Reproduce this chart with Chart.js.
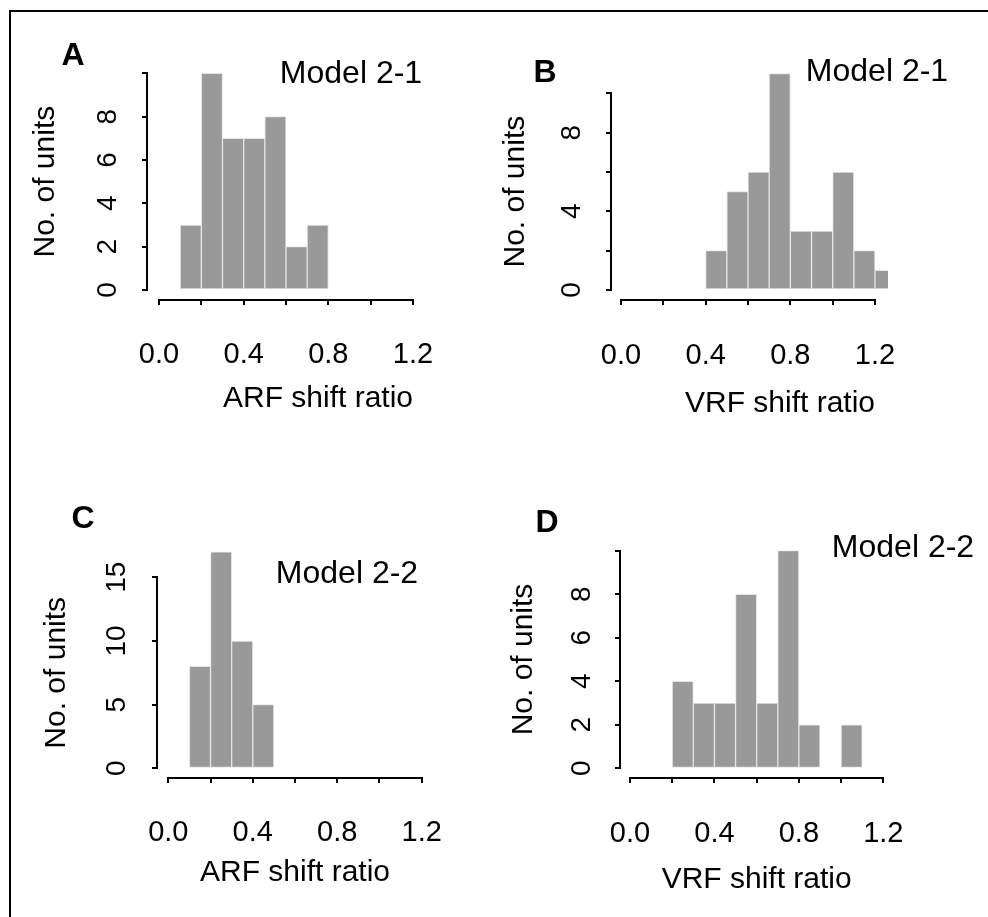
<!DOCTYPE html>
<html>
<head>
<meta charset="utf-8">
<title>ARF / VRF shift ratio histograms</title>
<script src="https://cdn.jsdelivr.net/npm/chart.js@4.4.1/dist/chart.umd.min.js"></script>
<style>
  html, body { margin: 0; padding: 0; background: #fff; }
  #figure { position: relative; width: 988px; height: 917px; overflow: hidden;
            font-family: 'Liberation Sans', Arial, Helvetica, sans-serif; }
  #frame { position: absolute; left: 9px; top: 10px; right: 0; bottom: 0;
           border-left: 2px solid #000; border-top: 2px solid #000; }
  .panel { position: absolute; }
  .tag { position: absolute; line-height: 1; white-space: nowrap; color: #000; transform: translateX(-50%); }
  .letter { font-size: 32px; font-weight: bold; }
  .model { font-size: 32px; }
</style>
</head>
<body>
<div id="figure">
  <div id="frame"></div>
  <canvas id="panelA" class="panel" width="494" height="458" style="left:0;top:0"></canvas>
  <canvas id="panelB" class="panel" width="494" height="458" style="left:494px;top:0"></canvas>
  <canvas id="panelC" class="panel" width="494" height="459" style="left:0;top:458px"></canvas>
  <canvas id="panelD" class="panel" width="494" height="459" style="left:494px;top:458px"></canvas>

  <div class="tag letter" style="left:73px;top:38px">A</div>
  <div class="tag model" style="left:351px;top:56px">Model 2-1</div>
  <div class="tag letter" style="left:545px;top:55px">B</div>
  <div class="tag model" style="left:877px;top:54px">Model 2-1</div>
  <div class="tag letter" style="left:83px;top:501px">C</div>
  <div class="tag model" style="left:347px;top:556px">Model 2-2</div>
  <div class="tag letter" style="left:547px;top:505px">D</div>
  <div class="tag model" style="left:903px;top:530px">Model 2-2</div>
</div>
<script>
'use strict';

// Histogram bins are 0.1 wide; each *BinStarts array holds the left edges.
var binWidth = 0.1;

var aBinStarts = [0.1, 0.2, 0.3, 0.4, 0.5, 0.6, 0.7];
var aCounts = [3, 10, 7, 7, 8, 2, 3];

var bBinStarts = [0.4, 0.5, 0.6, 0.7, 0.8, 0.9, 1.0, 1.1, 1.2];
var bCounts = [2, 5, 6, 11, 3, 3, 6, 2, 1];

var cBinStarts = [0.1, 0.2, 0.3, 0.4];
var cCounts = [8, 17, 10, 5];

var dBinStarts = [0.2, 0.3, 0.4, 0.5, 0.6, 0.7, 0.8, 1.0];
var dCounts = [4, 3, 3, 8, 3, 10, 2, 2];

// Axis ranges and tick labels.
var xMin = 0;
var xMax = 1.2;
var xStep = 0.2;
var xTickLabels = [0.0, 0.4, 0.8, 1.2];

var aYMax = 10, aYStep = 2;
var aYTickLabels = [0, 2, 4, 6, 8];
var bYMax = 10, bYStep = 2;
var bYTickLabels = [0, 4, 8];
var cYMax = 15, cYStep = 5;
var cYTickLabels = [0, 5, 10, 15];
var dYMax = 10, dYStep = 2;
var dYTickLabels = [0, 2, 4, 6, 8];

var FONT_FAMILY = "'Liberation Sans', Arial, Helvetica, sans-serif";
var xTickFont = {family: FONT_FAMILY, size: 29};
var yTickFont = {family: FONT_FAMILY, size: 28};
var titleFont = {family: FONT_FAMILY, size: 30};
var TICK_LEN = 4;

// Where each panel sits on the page (page pixels).
var panels = [
  {id: 'panelA', left: 0, top: 0, bins: aBinStarts, counts: aCounts,
   yMax: aYMax, yStep: aYStep, yLabels: aYTickLabels, xTitle: 'ARF shift ratio', xTitleAlign: 'end',
   area: [159, 73.3, 413, 290], yLineX: 147, xLineY: 300, yLabelX: 108, yTitleX: 46, xLabelY: 355, xTitleY: 399},
  {id: 'panelB', left: 494, top: 0, bins: bBinStarts, counts: bCounts,
   yMax: bYMax, yStep: bYStep, yLabels: bYTickLabels, xTitle: 'VRF shift ratio', xTitleAlign: 'end',
   area: [621, 93.3, 875, 290], yLineX: 611, xLineY: 300, yLabelX: 572, yTitleX: 516, xLabelY: 356, xTitleY: 404},
  {id: 'panelC', left: 0, top: 458, bins: cBinStarts, counts: cCounts,
   yMax: cYMax, yStep: cYStep, yLabels: cYTickLabels, xTitle: 'ARF shift ratio', xTitleAlign: 'center',
   area: [168.3, 577.3, 421.7, 768.3], yLineX: 156.7, xLineY: 778.3, yLabelX: 117, yTitleX: 57, xLabelY: 833, xTitleY: 873},
  {id: 'panelD', left: 494, top: 458, bins: dBinStarts, counts: dCounts,
   yMax: dYMax, yStep: dYStep, yLabels: dYTickLabels, xTitle: 'VRF shift ratio', xTitleAlign: 'center',
   area: [630, 550.7, 883.3, 768.3], yLineX: 619.7, xLineY: 778.3, yLabelX: 582, yTitleX: 524, xLabelY: 834, xTitleY: 880}
];

var measureCtx = document.createElement('canvas').getContext('2d');

function widestLabel(labels, font) {
  measureCtx.font = font.size + 'px ' + font.family;
  return Math.max.apply(null, labels.map(function (l) { return measureCtx.measureText(String(l)).width; }));
}

function hasLabel(list, value) {
  return list.some(function (v) { return Math.abs(v - value) < 1e-6; });
}

function drawPanel(p) {
  var canvas = document.getElementById(p.id);
  var areaL = p.area[0] - p.left;
  var areaT = p.area[1] - p.top;
  var areaR = p.area[2] - p.left;
  var areaB = p.area[3] - p.top;
  var xPerPx = (xMax - xMin) / (areaR - areaL);
  var yPerPx = p.yMax / (areaB - areaT);
  var titleLine = titleFont.size * 1.2;
  var xTitleDrop = p.xTitleY - p.xLineY;

  var chart = new Chart(canvas, {
    type: 'bar',
    data: {
      datasets: [{
        data: p.bins.map(function (start, i) { return {x: start + binWidth / 2, y: p.counts[i]}; }),
        backgroundColor: '#999999',
        borderColor: '#e4e4e4',
        borderWidth: 1,
        borderSkipped: false,
        barPercentage: 1,
        categoryPercentage: 1,
        clip: {left: false, top: false, right: 13, bottom: false}
      }]
    },
    options: {
      responsive: false,
      animation: false,
      events: [],
      layout: {padding: {left: 0, top: areaT, right: canvas.width - areaR, bottom: canvas.height - areaB}},
      plugins: {legend: {display: false}, tooltip: {enabled: false}},
      scales: {
        x: {
          type: 'linear',
          min: xMin,
          max: xMax,
          offset: false,
          position: {y: -(p.xLineY - p.area[3]) * yPerPx},
          border: {color: '#000', width: 2},
          grid: {drawOnChartArea: false, offset: false, color: '#000', lineWidth: 2, tickLength: TICK_LEN},
          ticks: {
            stepSize: xStep,
            autoSkip: false,
            minRotation: 0,
            maxRotation: 0,
            color: '#000',
            font: xTickFont,
            padding: p.xLabelY - p.xLineY - TICK_LEN - xTickFont.size * 0.6,
            callback: function (value) { return hasLabel(xTickLabels, value) ? value.toFixed(1) : ''; }
          },
          title: {display: true, text: p.xTitle, align: p.xTitleAlign, color: '#000', font: titleFont, padding: 0},
          afterFit: function (scale) { scale.height = xTitleDrop + titleLine / 2; }
        },
        y: {
          type: 'linear',
          min: 0,
          max: p.yMax,
          position: {x: -(p.area[0] - p.yLineX) * xPerPx},
          border: {color: '#000', width: 2},
          grid: {drawOnChartArea: false, color: '#000', lineWidth: 2, tickLength: TICK_LEN},
          ticks: {stepSize: p.yStep, display: false}
        },
        yl: {
          type: 'linear',
          position: 'left',
          min: 0,
          max: p.yMax,
          border: {display: false},
          grid: {display: false, drawTicks: false},
          ticks: {
            stepSize: p.yStep,
            autoSkip: false,
            minRotation: 90,
            maxRotation: 90,
            crossAlign: 'center',
            color: '#000',
            font: yTickFont,
            padding: (p.area[0] - p.yLabelX) - widestLabel(p.yLabels, yTickFont) / 2,
            callback: function (value) { return hasLabel(p.yLabels, value) ? String(value) : ''; }
          },
          title: {display: true, text: 'No. of units', color: '#000', font: titleFont,
                  padding: {top: p.yTitleX - p.left - titleLine / 2, bottom: 0}},
          afterFit: function (scale) { scale.width = areaL; }
        }
      }
    }
  });

  // Put the x title at its place, whatever height the positioned axis reports.
  var sx = chart.scales.x;
  var pad = (sx.bottom - sx.top) - xTitleDrop - titleLine / 2;
  if (Math.abs(pad) > 0.5) {
    chart.options.scales.x.title.padding = {top: 0, bottom: pad};
    chart.update();
  }
  return chart;
}

panels.forEach(drawPanel);
</script>
</body>
</html>
